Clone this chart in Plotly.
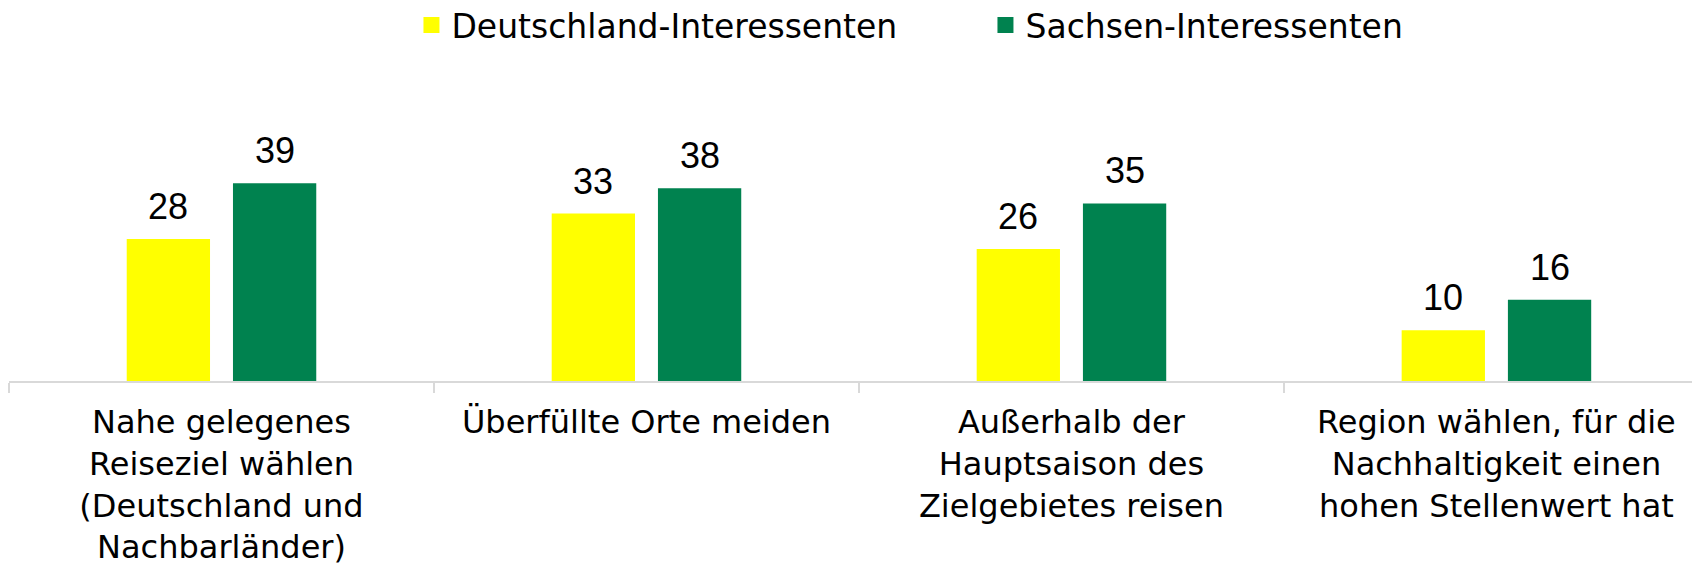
import plotly.graph_objects as go

categories = [
    "Nahe gelegenes<br>Reiseziel wählen<br>(Deutschland und<br>Nachbarländer)",
    "Überfüllte Orte meiden",
    "Außerhalb der<br>Hauptsaison des<br>Zielgebietes reisen",
    "Region wählen, für die<br>Nachhaltigkeit einen<br>hohen Stellenwert hat",
]
series_names = ["Deutschland-Interessenten", "Sachsen-Interessenten"]
deutschland = [28, 33, 26, 10]
sachsen = [39, 38, 35, 16]
colors = ["#FFFF00", "#00824F"]

ARIAL = "Liberation Sans, Arial, sans-serif"
WIDE = "DejaVu Sans, Liberation Sans, sans-serif"
BARGAP = 0.5
BARGROUPGAP = 0.216

fig = go.Figure()
annotations = []
n_series = 2
slot = (1 - BARGAP) / n_series
for k, (name, vals, col) in enumerate(zip(series_names, [deutschland, sachsen], colors)):
    fig.add_trace(go.Bar(
        x=categories, y=vals, name=name, marker_color=col,
        marker_line_width=0, showlegend=False,
    ))
    fig.add_trace(go.Scatter(
        x=[None], y=[None], mode="markers", name=name,
        marker=dict(symbol="square", size=16, color=col),
    ))
    shift = -(1 - BARGAP) / 2 + slot * (k + 0.5)
    for i, v in enumerate(vals):
        annotations.append(dict(
            x=i + shift, y=v, xref="x", yref="y", text=str(v),
            showarrow=False, yanchor="bottom", xanchor="center", yshift=10,
            font=dict(size=36, family=ARIAL, color="black"),
        ))

fig.update_layout(
    width=1692, height=565,
    margin=dict(l=1, r=0, t=94, b=192, autoexpand=False),
    paper_bgcolor="white", plot_bgcolor="white",
    barmode="group", bargap=BARGAP, bargroupgap=BARGROUPGAP,
    font=dict(family=ARIAL, color="black"),
    annotations=annotations,
    legend=dict(
        orientation="h", x=0.238, xanchor="left", y=0.97, yanchor="middle",
        yref="container", font=dict(size=33, family=WIDE),
        entrywidth=529, itemwidth=30,
    ),
    xaxis=dict(
        type="category", range=[-0.5, 3.479],
        showline=True, linecolor="#D9D9D9", linewidth=2,
        ticks="outside", tickson="boundaries", ticklen=10, tickcolor="#D9D9D9", tickwidth=2,
        tickfont=dict(size=32, family=WIDE, color="black"),
        ticklabelstandoff=12,
        showgrid=False, zeroline=False,
    ),
    yaxis=dict(
        range=[0, 55], visible=False, showgrid=False, zeroline=False,
    ),
)

fig.write_html("out.html")
